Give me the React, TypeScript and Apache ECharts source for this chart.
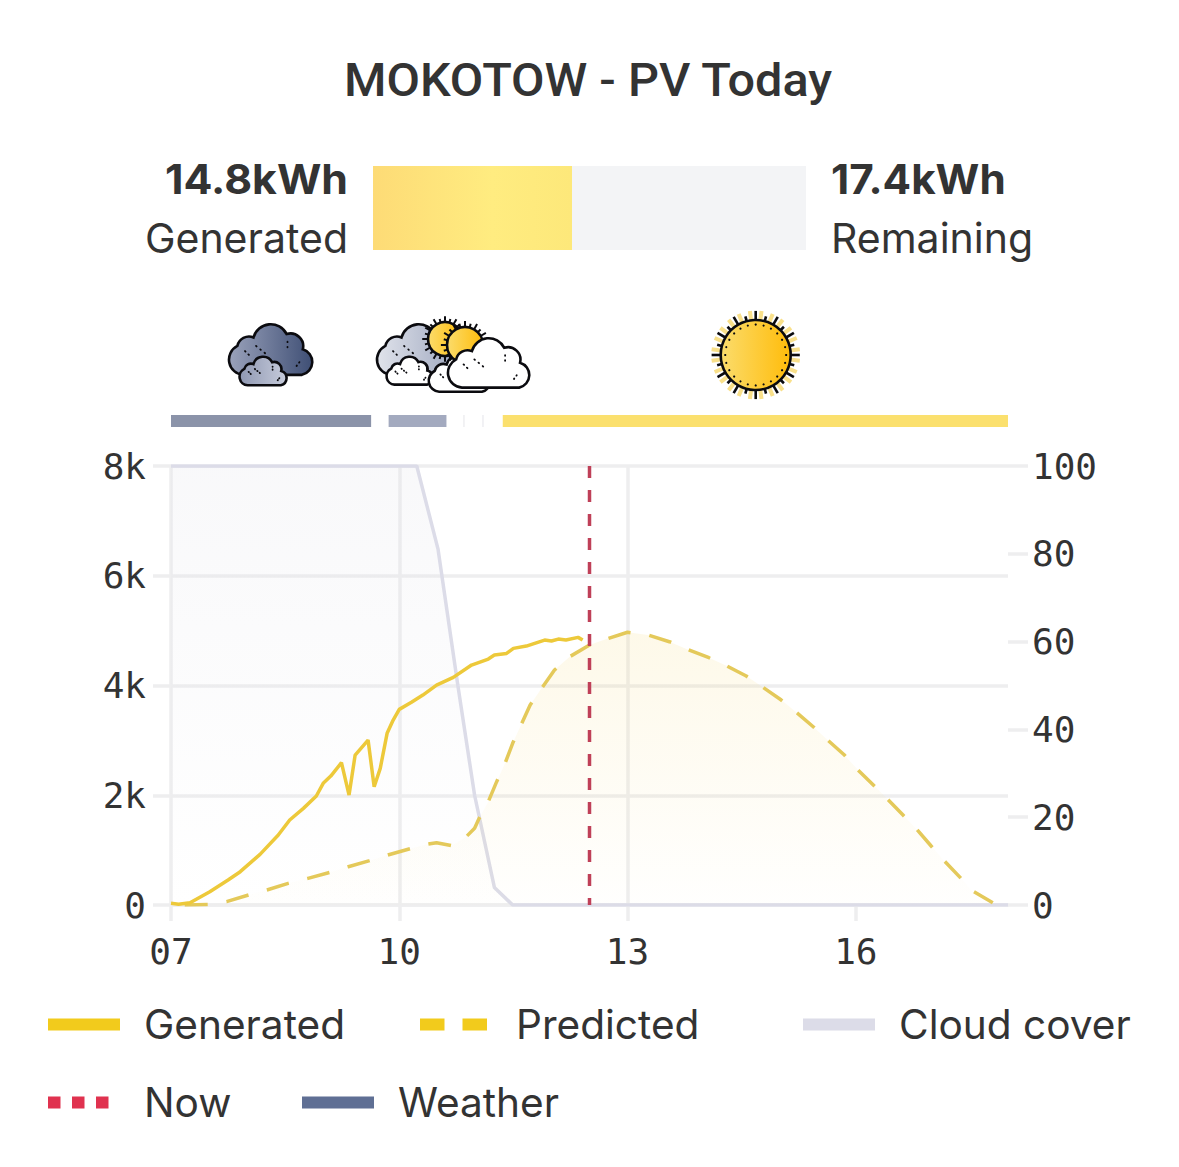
import React, { useEffect, useRef } from 'react';
import * as echarts from 'echarts';

// hours are counted from 07:00 so the x axis ticks land on 07, 10, 13, 16
const START_HOUR = 7;

const generatedHours = [0, 0.1, 0.25, 0.51, 0.75, 0.91, 1.17, 1.41, 1.56, 1.74, 1.91, 2, 2.1, 2.24, 2.34, 2.42, 2.59, 2.67, 2.75, 2.84, 2.92, 3, 3.16, 3.31, 3.49, 3.71, 3.95, 4.17, 4.25, 4.41, 4.5, 4.67, 4.91, 5, 5.09, 5.19, 5.35, 5.41];
const generatedWatts = [30, 15, 42, 243, 455, 607, 923, 1275, 1549, 1761, 1986, 2217, 2350, 2593, 2004, 2733, 3006, 2156, 2490, 3128, 3371, 3565, 3693, 3826, 4008, 4148, 4373, 4482, 4555, 4585, 4677, 4719, 4828, 4810, 4846, 4828, 4877, 4828];

const predictedHours = [0.18, 0.49, 0.73, 1.02, 1.26, 1.54, 1.8, 2.09, 2.33, 2.61, 2.85, 3.14, 3.38, 3.49, 3.69, 3.88, 3.99, 4.05, 4.17, 4.28, 4.39, 4.49, 4.6, 4.72, 4.87, 5.04, 5.24, 5.5, 5.72, 6, 6.27, 6.55, 6.79, 7.07, 7.3, 7.56, 7.78, 8.02, 8.21, 8.44, 8.63, 8.85, 9.02, 9.23, 9.42, 9.62, 9.8, 9.99, 10.16, 10.37, 10.53, 10.8];
const predictedWatts = [0, 10, 61, 182, 273, 395, 486, 595, 698, 808, 911, 1026, 1111, 1136, 1081, 1245, 1397, 1579, 1883, 2247, 2581, 2946, 3280, 3644, 3948, 4282, 4525, 4737, 4846, 4970, 4919, 4798, 4658, 4506, 4360, 4172, 3966, 3735, 3522, 3249, 3006, 2733, 2472, 2186, 1925, 1640, 1379, 1075, 807, 504, 261, 42];

const cloudHours = [0, 3.23, 3.51, 3.77, 3.99, 4.25, 4.49, 11];
const cloudPercent = [100, 100, 81, 50, 25, 4, 0, 0];

const nowHour = 5.5;

const weatherStart = [0, 2.86, 3.84, 4.09, 4.36];
const weatherEnd = [2.63, 3.62, 3.86, 4.11, 11];
const weatherKind = ['cloudy', 'mixed', 'faint', 'faint', 'sunny'];

const generatedKwh = 14.8;
const remainingKwh = 17.4;

const WEATHER_COLORS: Record<string, string> = {
  cloudy: '#8b93a9',
  mixed: '#a3aabf',
  faint: '#eeeef1',
  sunny: '#fbe06e',
};

const MONO = '"DejaVu Sans Mono"';
const SANS = 'Inter';
const INK = '#333333';
const GRID = '#eeeeef';

const CLOUD_PATH = 'M18 61 A18 18 0 0 1 11 27 A14 14 0 0 1 30 17 A21 21 0 0 1 69 13 A15 15 0 0 1 88 31 A15.5 15.5 0 0 1 87 61 Z';
const DOTS_PATH = 'M33 27 l.6 .6 M38 31 l.6 .6 M43 35 l.6 .6 M20 33 l.6 .6 M24 37 l.6 .6 M70 22 l0 .6 M70 28 l0 .6 M84 46 l-.3 .6 M81 50 l-.3 .6';
echarts.graphic.registerShape('wxCloud', echarts.graphic.extendPath(CLOUD_PATH, {}) as any);
echarts.graphic.registerShape('wxDots', echarts.graphic.extendPath(DOTS_PATH, {}) as any);

const hGrad = (a: string, b: string) => ({
  type: 'linear', x: 0, y: 0, x2: 1, y2: 0,
  colorStops: [{ offset: 0, color: a }, { offset: 1, color: b }],
});

// width is the on-screen width of the cloud in px
const cloudIcon = (x: number, y: number, width: number, left: string, right: string) => {
  const s = width / 100;
  return {
    type: 'group',
    x,
    y,
    scaleX: s,
    scaleY: s,
    children: [
      { type: 'wxCloud', style: { fill: hGrad(left, right), stroke: '#0b0b0f', lineWidth: 2.6 / s } },
      { type: 'wxDots', style: { fill: 'none', stroke: '#0b0b0f', lineWidth: 1.8 / s, lineCap: 'round' } },
    ],
  };
};

const sunIcon = (cx: number, cy: number, r: number, detailed: boolean) => {
  const children: any[] = [];
  const count = 24;
  if (detailed) {
    for (let i = 0; i < count; i++) {
      const a = ((i + 0.5) / count) * Math.PI * 2;
      children.push({
        type: 'line',
        shape: { x1: Math.cos(a) * r, y1: Math.sin(a) * r, x2: Math.cos(a) * (r * 1.27), y2: Math.sin(a) * (r * 1.27) },
        style: { stroke: '#f9e08a', lineWidth: 4 },
      });
    }
  }
  for (let i = 0; i < count; i++) {
    const a = (i / count) * Math.PI * 2;
    const len = i % 2 === 0 ? 1.26 : 1.14;
    children.push({
      type: 'line',
      shape: {
        x1: Math.cos(a) * r,
        y1: Math.sin(a) * r,
        x2: Math.cos(a) * (r * (detailed ? len : len + 0.08)),
        y2: Math.sin(a) * (r * (detailed ? len : len + 0.08)),
      },
      style: { stroke: '#0b0b0f', lineWidth: detailed ? 2.6 : 2 },
    });
  }
  children.push({
    type: 'circle',
    shape: { cx: 0, cy: 0, r },
    style: { fill: hGrad('#fbdc6c', '#ffbc0a'), stroke: '#0b0b0f', lineWidth: 2.6 },
  });
  if (detailed) {
    for (let i = 0; i < count; i++) {
      const a = (i / count) * Math.PI * 2;
      children.push({
        type: 'circle',
        shape: { cx: Math.cos(a) * (r * 0.87), cy: Math.sin(a) * (r * 0.87), r: 1.1 },
        style: { fill: '#0b0b0f' },
      });
    }
  }
  return { type: 'group', x: cx, y: cy, children };
};

const headerText = (x: number, y: number, text: string, align: string, weight: number, stretch = 1) => ({
  type: 'text',
  x,
  y,
  scaleX: stretch,
  style: {
    text,
    fill: INK,
    font: `${weight} 41px ${SANS}`,
    textAlign: align,
    textVerticalAlign: 'middle',
  },
});

const legendAt = (name: string, left: number, top: number, lineStyle: any, extra: any = {}) => ({
  show: true,
  data: [name],
  left,
  top,
  orient: 'horizontal',
  itemWidth: 72,
  itemHeight: 12,
  selectedMode: false,
  lineStyle,
  // line legends also draw a circle in the middle of the line, hide it
  itemStyle: { color: 'rgba(0,0,0,0)', opacity: 0 },
  textStyle: { color: INK, fontFamily: SANS, fontSize: 40.6, padding: [0, 0, 0, 19] },
  ...extra,
});

const App: React.FC = () => {
  const chartRef = useRef<HTMLDivElement>(null);

  useEffect(() => {
    if (!chartRef.current) return;
    const chart = echarts.init(chartRef.current, undefined, { renderer: 'svg' });

    const option: any = {
      animation: false,
      backgroundColor: '#ffffff',
      grid: [
        { left: 171, top: 466, width: 837, height: 439 },
        { left: 171, top: 415, width: 837, height: 12 },
        { left: 373, top: 166, width: 433, height: 84 },
      ],
      xAxis: [
        {
          type: 'value',
          gridIndex: 0,
          min: 0,
          max: 11,
          interval: 3,
          axisLine: { lineStyle: { color: GRID, width: 3.5 } },
          axisTick: { length: 16, lineStyle: { color: GRID, width: 3.5 }, customValues: [0, 3, 6, 9] },
          splitLine: { show: true, showMinLine: true, showMaxLine: false, lineStyle: { color: GRID, width: 3.5 } },
          axisLabel: {
            color: INK,
            fontFamily: MONO,
            fontSize: 36,
            margin: 28,
            customValues: [0, 3, 6, 9],
            formatter: (v: number) => String(v + START_HOUR).padStart(2, '0'),
          },
        },
        { type: 'value', gridIndex: 1, min: 0, max: 11, show: false },
        { type: 'value', gridIndex: 2, min: 0, max: generatedKwh + remainingKwh, show: false },
      ],
      yAxis: [
        {
          type: 'value',
          gridIndex: 0,
          min: 0,
          max: 8000,
          interval: 2000,
          axisLine: { show: false },
          axisTick: { show: true, length: 18, lineStyle: { color: GRID, width: 3.5 } },
          splitLine: { lineStyle: { color: GRID, width: 3.5 } },
          axisLabel: {
            color: INK,
            fontFamily: MONO,
            fontSize: 36,
            margin: 25,
            formatter: (v: number) => (v === 0 ? '0' : `${v / 1000}k`),
          },
        },
        {
          type: 'value',
          gridIndex: 0,
          position: 'right',
          min: 0,
          max: 100,
          interval: 20,
          axisLine: { show: false },
          axisTick: { show: true, length: 20, lineStyle: { color: GRID, width: 3.5 } },
          splitLine: { show: false },
          axisLabel: { color: INK, fontFamily: MONO, fontSize: 36, margin: 24 },
        },
        { type: 'value', gridIndex: 1, min: 0, max: 1, show: false },
        { type: 'category', gridIndex: 2, data: ['today'], show: false },
      ],
      legend: [
        legendAt('Generated', 37, 999, { color: '#f2cb1c', width: 12, type: 'solid', opacity: 1 }),
        legendAt('Predicted', 409, 999, { color: '#f2cb1c', width: 12, type: [24.5, 18], opacity: 1 }),
        legendAt('Cloud cover', 792, 999, { color: '#dcdce8', width: 12, type: 'solid', opacity: 1 }),
        legendAt('Now', 37, 1077, { color: '#e0324f', width: 12, type: [12.5, 11.5], opacity: 1 }),
        legendAt('Weather', 297, 1077, undefined, { icon: 'rect', itemStyle: { color: '#5f6f94' } }),
      ],
      series: [
        {
          name: 'Cloud cover',
          type: 'line',
          xAxisIndex: 0,
          yAxisIndex: 1,
          symbol: 'none',
          data: cloudHours.map((h, i) => [h, cloudPercent[i]]),
          lineStyle: { color: '#dcdce8', width: 3.5 },
          itemStyle: { color: '#dcdce8' },
          areaStyle: {
            color: {
              type: 'linear', x: 0, y: 0, x2: 0, y2: 1,
              colorStops: [
                { offset: 0, color: 'rgba(225,225,232,0.3)' },
                { offset: 1, color: 'rgba(225,225,232,0)' },
              ],
            },
          },
          z: 3,
        },
        {
          name: 'Predicted',
          type: 'line',
          xAxisIndex: 0,
          yAxisIndex: 0,
          symbol: 'none',
          data: predictedHours.map((h, i) => [h, predictedWatts[i]]),
          lineStyle: { color: '#e4c95a', width: 3.5, type: [23, 19] },
          itemStyle: { color: '#f2cb1c' },
          areaStyle: {
            color: {
              type: 'linear', x: 0, y: 0, x2: 0, y2: 1,
              colorStops: [
                { offset: 0, color: 'rgba(245,205,70,0.17)' },
                { offset: 1, color: 'rgba(245,205,70,0.01)' },
              ],
            },
          },
          z: 4,
        },
        {
          name: 'Generated',
          type: 'line',
          xAxisIndex: 0,
          yAxisIndex: 0,
          symbol: 'none',
          data: generatedHours.map((h, i) => [h, generatedWatts[i]]),
          lineStyle: { color: '#edc93a', width: 3.5 },
          itemStyle: { color: '#f2cb1c' },
          z: 5,
        },
        {
          name: 'Now',
          type: 'line',
          xAxisIndex: 0,
          yAxisIndex: 0,
          symbol: 'none',
          data: [[nowHour, 8000], [nowHour, 0]],
          lineStyle: { color: '#bf4058', width: 3.5, type: [12, 12] },
          itemStyle: { color: '#e0324f' },
          z: 6,
        },
        {
          name: 'Weather',
          type: 'custom',
          xAxisIndex: 1,
          yAxisIndex: 2,
          itemStyle: { color: '#5f6f94' },
          encode: { x: [0, 1] },
          data: weatherStart.map((s, i) => [s, weatherEnd[i], i]),
          renderItem: (_: any, api: any) => {
            const a = api.coord([api.value(0), 1]);
            const b = api.coord([api.value(1), 0]);
            return {
              type: 'rect',
              shape: { x: a[0], y: a[1], width: b[0] - a[0], height: b[1] - a[1] },
              style: { fill: WEATHER_COLORS[weatherKind[api.value(2)]] },
            };
          },
        },
        {
          name: 'Generated kWh',
          type: 'bar',
          xAxisIndex: 2,
          yAxisIndex: 3,
          stack: 'energy',
          barWidth: '100%',
          data: [generatedKwh],
          itemStyle: {
            color: {
              type: 'linear', x: 0, y: 0, x2: 1, y2: 0,
              colorStops: [
                { offset: 0, color: '#fddb76' },
                { offset: 0.6, color: '#ffec80' },
                { offset: 1, color: '#fde87a' },
              ],
            },
          },
        },
        {
          name: 'Remaining kWh',
          type: 'bar',
          xAxisIndex: 2,
          yAxisIndex: 3,
          stack: 'energy',
          barWidth: '100%',
          data: [remainingKwh],
          itemStyle: { color: '#f3f4f6' },
        },
      ],
      graphic: [
        // the original title face is wider than Roboto, so stretch it a little
        {
          type: 'text',
          x: 588,
          y: 80,
          scaleX: 1.056,
          style: {
            text: 'MOKOTOW - PV Today',
            fill: INK,
            font: '500 46px Roboto',
            textAlign: 'center',
            textVerticalAlign: 'middle',
          },
        },
        headerText(348, 179, `${generatedKwh}kWh`, 'right', 700, 1.045),
        headerText(348, 238, 'Generated', 'right', 400),
        headerText(831, 179, `${remainingKwh}kWh`, 'left', 700, 1.03),
        headerText(831, 238, 'Remaining', 'left', 400),

        // cloudy icon
        cloudIcon(228, 323, 85, '#9aa2bb', '#3f4f75'),
        cloudIcon(239, 356, 48, '#8f98b2', '#c6cbdb'),

        // mixed icon, back to front
        cloudIcon(376, 323, 85, '#e0e3eb', '#9da6be'),
        sunIcon(445, 339, 17, false),
        cloudIcon(386, 356, 47, '#ffffff', '#ffffff'),
        cloudIcon(428, 354, 62, '#ffffff', '#ffffff'),
        sunIcon(465, 345, 18, false),
        cloudIcon(447, 337, 83, '#ffffff', '#ffffff'),

        // sunny icon
        sunIcon(755.7, 355, 35, true),
      ],
    };

    chart.setOption(option);
    return () => chart.dispose();
  }, []);

  return (
    <div
      ref={chartRef}
      style={{ position: 'fixed', left: 0, top: 0, width: 1179, height: 1167 }}
    />
  );
};

export default App;
